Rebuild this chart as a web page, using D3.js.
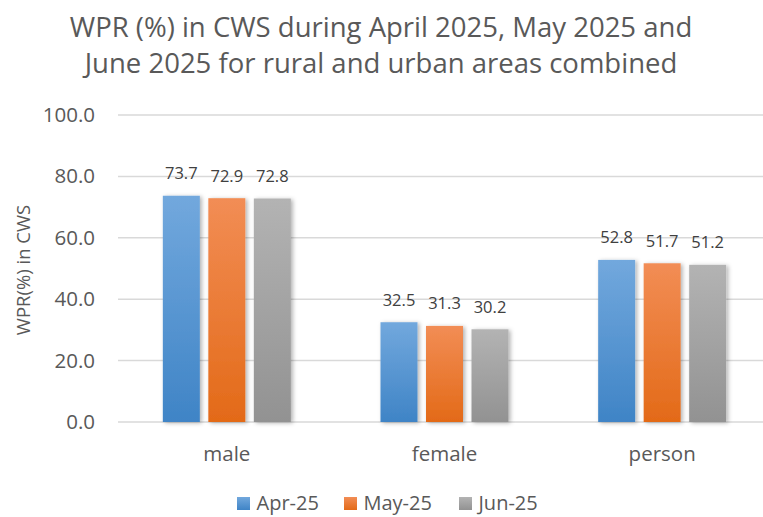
<!DOCTYPE html>
<html lang="en">
<head>
<meta charset="UTF-8" />
<title>WPR in CWS</title>
<style>
  body { margin: 0; background: #fff; }
  svg text { font-family: "Open Sans", "Noto Sans", sans-serif; }
</style>
</head>
<body>
<script src="https://cdn.jsdelivr.net/npm/d3@7"></script>
<div id="chart"></div>
<script>
// data
const categories = ["male", "female", "person"];
const seriesNames = ["Apr-25", "May-25", "Jun-25"];
const apr25 = [73.7, 32.5, 52.8];
const may25 = [72.9, 31.3, 51.7];
const jun25 = [72.8, 30.2, 51.2];
const yTicks = [0, 20, 40, 60, 80, 100];
const titleLines = ["WPR (%) in CWS during April 2025, May 2025 and",
                    "June 2025 for rural and urban areas combined"];

const values = [apr25, may25, jun25];
const colors = [
  { top: "#72a8dd", bottom: "#3f84c6" },
  { top: "#f28d55", bottom: "#e36a18" },
  { top: "#b3b3b3", bottom: "#929292" }
];

const w = 763, h = 517;
const plotL = 118, plotR = 771, plotT = 115, plotB = 422;

const svg = d3.select("#chart").append("svg")
  .attr("width", w).attr("height", h);

const defs = svg.append("defs");
colors.forEach((c, i) => {
  const g = defs.append("linearGradient")
    .attr("id", "grad" + i)
    .attr("x1", 0).attr("y1", 0).attr("x2", 0).attr("y2", 1);
  g.append("stop").attr("offset", "0%").attr("stop-color", c.top);
  g.append("stop").attr("offset", "100%").attr("stop-color", c.bottom);
});
const f = defs.append("filter").attr("id", "shadow")
  .attr("x", "-20%").attr("y", "-10%").attr("width", "150%").attr("height", "120%");
f.append("feDropShadow").attr("dx", 2).attr("dy", 1).attr("stdDeviation", 2)
  .attr("flood-color", "#000").attr("flood-opacity", 0.3);

// scales
const x = d3.scaleBand().domain(categories).range([plotL, plotR]).padding(0);
const yScale = d3.scaleLinear().domain([0, 100]).range([plotB, plotT]);
const groupW = 128;
const xInner = d3.scaleBand().domain(seriesNames).range([0, groupW])
  .paddingInner(0.187).paddingOuter(0);

// title
svg.append("g").selectAll("text")
  .data(titleLines).enter().append("text")
  .attr("x", 381).attr("y", (d, i) => 37 + i * 36)
  .attr("text-anchor", "middle")
  .style("font-size", "27.5px").style("fill", "#595959")
  .text(d => d);

// gridlines
svg.append("g").selectAll("line")
  .data(yTicks).enter().append("line")
  .attr("x1", plotL).attr("x2", w)
  .attr("y1", d => yScale(d)).attr("y2", d => yScale(d))
  .attr("stroke", "#d9d9d9").attr("stroke-width", 1.5);

// y axis labels
const yAxis = d3.axisLeft(yScale).tickValues(yTicks)
  .tickFormat(d3.format(".1f")).tickSize(0).tickPadding(0);
const ya = svg.append("g").attr("transform", "translate(95,0)").call(yAxis);
ya.select(".domain").remove();
ya.selectAll("text").style("font-size", "20.5px").style("fill", "#595959")
  .style("font-family", "'Open Sans', sans-serif");

svg.append("text")
  .attr("transform", "translate(30,270) rotate(-90)")
  .attr("text-anchor", "middle")
  .style("font-size", "18.5px").style("fill", "#595959")
  .text("WPR(%) in CWS");

// bars
const groups = svg.append("g").selectAll("g")
  .data(categories).enter().append("g")
  .attr("transform", d => "translate(" + (x(d) + x.bandwidth() / 2 - groupW / 2) + ",0)");

seriesNames.forEach((s, si) => {
  groups.append("rect")
    .attr("x", xInner(s))
    .attr("width", xInner.bandwidth())
    .attr("y", (d, ci) => yScale(values[si][ci]))
    .attr("height", (d, ci) => yScale(0) - yScale(values[si][ci]))
    .attr("fill", "url(#grad" + si + ")")
    .attr("filter", "url(#shadow)");
});
seriesNames.forEach((s, si) => {
  groups.append("text")
    .attr("x", xInner(s) + xInner.bandwidth() / 2)
    .attr("y", (d, ci) => yScale(values[si][ci]) - 16.5)
    .attr("text-anchor", "middle")
    .style("font-size", "16.5px").style("fill", "#404040")
    .text((d, ci) => values[si][ci].toFixed(1));
});

// x axis labels
const xAxis = d3.axisBottom(x).tickSize(0).tickPadding(0);
const xa = svg.append("g").attr("transform", "translate(0,461)").call(xAxis);
xa.select(".domain").remove();
xa.selectAll("text").attr("dy", 0).style("font-size", "20.5px").style("fill", "#595959")
  .style("font-family", "'Open Sans', sans-serif");

// legend
const legendX = [237, 344, 459];
const lg = svg.append("g").selectAll("g")
  .data(seriesNames).enter().append("g")
  .attr("transform", (d, i) => "translate(" + legendX[i] + ",497)");
lg.append("rect").attr("width", 13).attr("height", 13)
  .attr("fill", (d, i) => "url(#grad" + i + ")");
lg.append("text").attr("x", 19.5).attr("y", 13)
  .style("font-size", "20px").style("fill", "#595959")
  .text(d => d);
</script>
</body>
</html>
